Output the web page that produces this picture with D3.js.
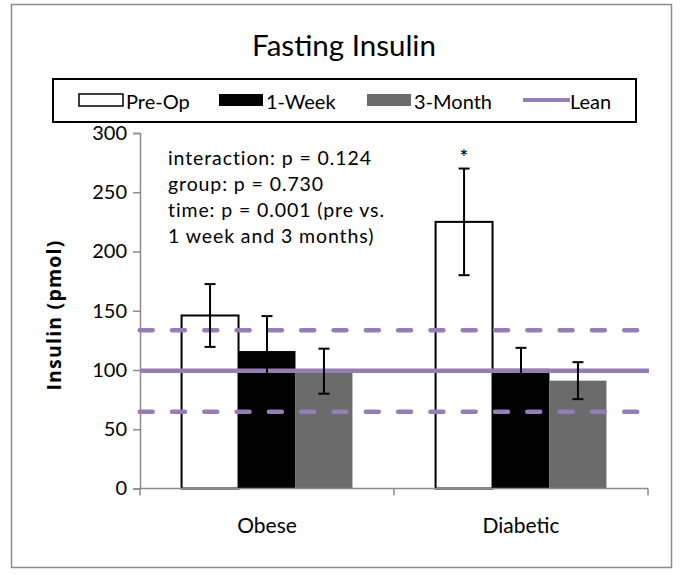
<!DOCTYPE html>
<html><head><meta charset="utf-8">
<script src="https://cdn.jsdelivr.net/npm/d3@7"></script>
<style>body{margin:0;background:#fff}svg{display:block}text{font-family:Lato,"Noto Sans",sans-serif;fill:#000}</style>
</head><body><svg id="c" width="683" height="575"></svg>
<script>
const categories = ["Obese", "Diabetic"];
const series = ["Pre-Op", "1-Week", "3-Month"];
const values = {"Pre-Op": [146, 225], "1-Week": [116, 101], "3-Month": [99, 91]};
const errors = {"Pre-Op": [26.5, 45], "1-Week": [29.5, 17.7], "3-Month": [19, 15.6]};
const leanMean = 99.4;
const leanBand = [133.5, 64.8];
const yTicks = [0, 50, 100, 150, 200, 250, 300];
const annotations = ["interaction: p = 0.124", "group: p = 0.730", "time: p = 0.001 (pre vs.", "1 week and 3 months)"];
const significance = [{category: "Diabetic", series: "Pre-Op", label: "*"}];

const fills = {"Pre-Op": "#ffffff", "1-Week": "#000000", "3-Month": "#6b6b6b"};
const purple = "#977db6";
const axisCol = "#8c8c8c";
const svg = d3.select("#c");

svg.append("rect").attr("x", 11.5).attr("y", 4.5).attr("width", 660).attr("height", 563)
  .attr("fill", "#fff").attr("stroke", axisCol).attr("stroke-width", 1.5);

svg.append("text").attr("x", 344).attr("y", 56).attr("text-anchor", "middle")
  .style("font-size", "29.5px").text("Fasting Insulin");

const L = {x0: 140, x1: 648, yTop: 133, yBot: 488.5};
const x = d3.scaleBand().domain(categories).range([L.x0, L.x1]);
const xs = d3.scaleBand().domain(series).range([0, x.bandwidth()]).paddingOuter(0.73).paddingInner(0);
const y = d3.scaleLinear().domain([0, 300]).range([L.yBot, L.yTop]);

// y axis
const ya = svg.append("g").attr("transform", `translate(${L.x0},0)`)
  .call(d3.axisLeft(y).tickValues(yTicks).tickSize(7).tickPadding(6));
ya.select(".domain").attr("stroke", axisCol).attr("stroke-width", 1.5);
ya.selectAll(".tick line").attr("stroke", axisCol).attr("stroke-width", 1.5);
ya.selectAll(".tick text").style("font-size", "20px").style("font-family", "Lato,sans-serif").attr("fill", "#000");

// bars
series.forEach(s => {
  svg.append("g").selectAll("rect").data(categories).join("rect")
    .attr("x", c => x(c) + xs(s))
    .attr("y", (c, i) => y(values[s][i]))
    .attr("width", xs.bandwidth())
    .attr("height", (c, i) => y(0) - y(values[s][i]))
    .attr("fill", fills[s])
    .attr("stroke", s === "Pre-Op" ? "#000" : "none")
    .attr("stroke-width", 2);
});

// x axis
const xa = svg.append("g").attr("transform", `translate(0,${L.yBot})`);
xa.append("line").attr("x1", L.x0).attr("x2", L.x1).attr("stroke", axisCol).attr("stroke-width", 1.5);
const bounds = [L.x0].concat(categories.map(c => x(c) + x.bandwidth()));
xa.selectAll(".tk").data(bounds).join("line").attr("class", "tk")
  .attr("x1", d => d).attr("x2", d => d).attr("y1", 0).attr("y2", 7)
  .attr("stroke", axisCol).attr("stroke-width", 1.5);
xa.selectAll("text").data(categories).join("text")
  .attr("x", c => x(c) + x.bandwidth() / 2).attr("y", 44.5)
  .attr("text-anchor", "middle").style("font-size", "21px").text(c => c);

// lean lines
svg.append("line").attr("x1", L.x0).attr("x2", L.x1 + 1).attr("y1", y(leanMean)).attr("y2", y(leanMean))
  .attr("stroke", purple).attr("stroke-width", 4.5);
leanBand.forEach(v => {
  svg.append("line").attr("x1", 139.7).attr("x2", 637.2).attr("y1", y(v)).attr("y2", y(v))
    .attr("stroke", purple).attr("stroke-width", 4.5).attr("stroke-dasharray", "13,19.3").attr("stroke-linecap", "round");
});

// error bars
series.forEach(s => {
  categories.forEach((c, i) => {
    const cx = x(c) + xs(s) + xs.bandwidth() / 2;
    const v = values[s][i], e = errors[s][i];
    const g = svg.append("g").attr("stroke", "#000").attr("stroke-width", 2);
    g.append("line").attr("x1", cx).attr("x2", cx).attr("y1", y(v + e)).attr("y2", y(v - e));
    g.append("line").attr("x1", cx - 5.5).attr("x2", cx + 5.5).attr("y1", y(v + e)).attr("y2", y(v + e));
    g.append("line").attr("x1", cx - 5.5).attr("x2", cx + 5.5).attr("y1", y(v - e)).attr("y2", y(v - e));
  });
});

// significance
significance.forEach(d => {
  const i = categories.indexOf(d.category);
  const cx = x(d.category) + xs(d.series) + xs.bandwidth() / 2;
  svg.append("text").attr("x", cx).attr("y", y(values[d.series][i] + errors[d.series][i]) - 4)
    .attr("text-anchor", "middle").style("font-size", "22px").text(d.label);
});

// annotations
svg.append("g").selectAll("text").data(annotations).join("text")
  .attr("x", 168).attr("y", (d, i) => 165 + i * 26)
  .style("font-size", "19.5px").style("letter-spacing", "0.9px").text(d => d);

// y label
svg.append("text").attr("transform", "translate(61,315) rotate(-90)").attr("text-anchor", "middle")
  .style("font-family", "'Open Sans',sans-serif").style("font-size", "19.5px").style("font-weight", "bold")
  .style("letter-spacing", "1.2px").text("Insulin (pmol)");

// legend
svg.append("rect").attr("x", 53).attr("y", 79).attr("width", 583).attr("height", 43)
  .attr("fill", "#fff").attr("stroke", "#000").attr("stroke-width", 2);
const legendItems = series.concat(["Lean"]);
const legX = [79, 219, 367, 523];
const lg = svg.append("g").selectAll("g").data(legendItems).join("g")
  .attr("transform", (d, i) => `translate(${legX[i]},100)`);
lg.each(function (d) {
  const g = d3.select(this);
  if (d === "Lean") {
    g.append("line").attr("x1", 0).attr("x2", 47).attr("stroke", purple).attr("stroke-width", 4);
  } else {
    g.append("rect").attr("x", 0).attr("y", -6).attr("width", 44).attr("height", 12)
      .attr("fill", fills[d]).attr("stroke", d === "Pre-Op" ? "#000" : "none").attr("stroke-width", 1.5);
  }
  g.append("text").attr("x", 47).attr("y", 9).style("font-size", "20px").text(d);
});
</script></body></html>
